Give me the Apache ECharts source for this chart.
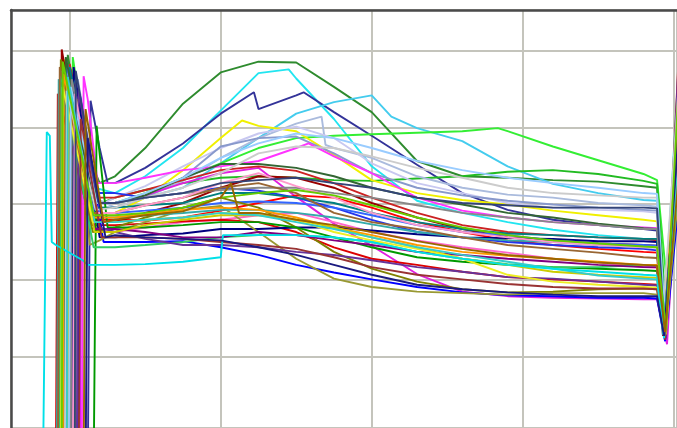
<!DOCTYPE html>
<html>
<head>
<meta charset="utf-8">
<script src="https://cdn.jsdelivr.net/npm/echarts@6/dist/echarts.min.js"></script>
<style>
  html, body { margin: 0; padding: 0; background: #ffffff; }
  #chart { width: 677px; height: 428px; }
</style>
</head>
<body>
<div id="chart"></div>
<script>
// Overlaid cycle traces: sharp upstroke, slow plateau decay, end-of-cycle dip.
// Time axis (gridline every 100 units) and amplitude axis (gridline every 100 units).

const bodyX = [130, 150, 175, 200, 225, 250, 275, 300, 330, 360, 390, 420, 450, 480, 489];
const troughY = -60;

const traceColors = [
  '#2e8b2e', '#22e5f0', '#333399', '#44ccee', '#33ee33', '#22bb22', '#f0f000', '#aabbdd', '#c8c8f0',
  '#8899cc', '#ff33ff', '#e020e0', '#ff66cc', '#ff0000', '#dd0000', '#cc2222', '#990000', '#0000ff',
  '#2233ee', '#3366ff', '#000080', '#999933', '#808000', '#008080', '#33aaaa', '#336633', '#009900',
  '#33cc66', '#800080', '#663399', '#888888', '#996633', '#ff9900', '#ff99cc', '#cccc00', '#eeee22',
  '#cccccc', '#99ccff', '#334477', '#993333', '#33cccc', '#00e0e8', '#1a1a80', '#66cc00', '#996600'
];

// upstroke onset, peak and post-peak settling point of each trace
const riseX = [97.4, 100, 111.9, 102.6, 101.3, 93.4, 95.4, 97.4, 92.1, 104, 107.9, 106.6, 96, 94.7, 90.8,
  98.7, 94.1, 105.3, 100, 97.4, 101.3, 103.3, 92.7, 99.3, 91.4, 96, 115.8, 93.4, 98, 104.6, 100.7, 92.1,
  95.4, 102, 98.7, 94.1, 96.7, 99.3, 103.3, 105.9, 98, 82.2, 110.5, 94.7, 109.2];
const peakX = [98.7, 101.3, 113.8, 104, 102, 94.7, 96.7, 98.7, 93.4, 105.3, 109.2, 107.9, 97.4, 96, 92.1,
  100, 94.7, 106.6, 100.7, 98, 102.6, 104.6, 94.1, 100, 92.7, 97.4, 117.8, 94.1, 99.3, 105.9, 101.3, 93.4,
  96, 103.3, 99.3, 95.4, 98, 100.7, 104, 107.3, 98.7, 84.8, 111.9, 95.4, 110.5];
const peakY = [495, 476, 435, 457, 492, 476, 489, 470, 450, 463, 467, 424, 457, 476, 444, 483, 502, 444,
  470, 486, 479, 437, 489, 479, 463, 492, 402, 474, 450, 450, 463, 479, 470, 444, 457, 453, 448, 453, 474,
  411, 466, 394, 386, 486, 424];
const settleX = [119.8, 116.5, 125.1, 119.8, 117.1, 113.2, 114.5, 116.5, 116.5, 119.8, 118.5, 119.8, 117.1,
  116.5, 114.5, 117.1, 114.5, 122.4, 117.8, 116.5, 119.8, 119.8, 115.2, 117.1, 115.8, 115.8, 125.1, 115.8,
  116.5, 119.8, 117.8, 115.2, 115.8, 118.5, 116.5, 115.2, 117.1, 117.8, 119.1, 121.1, 116.5, 111.9, 123.7,
  115.8, 122.4];
const settleY = [327, 321, 327, 301, 301, 295, 288, 308, 295, 295, 327, 301, 269, 279, 272, 308, 276, 250,
  314, 288, 256, 252, 263, 295, 282, 301, 269, 243, 267, 269, 301, 288, 282, 288, 263, 276, 292, 301, 301,
  256, 276, 220, 256, 285, 276];

// end-of-cycle dip and the start of the next upstroke
const tipX = [494.3, 493.6, 494.3, 492.9, 496.9, 494.9, 493.6, 492.9, 492.3, 494.3, 494.9, 495.6, 493.6,
  494.3, 493.6, 494.9, 492.9, 494.3, 493.6, 494.9, 492.9, 494.3, 493.6, 494.3, 492.3, 494.9, 494.3, 493.6,
  492.9, 494.9, 493.6, 494.3, 492.9, 494.3, 493.6, 494.9, 492.9, 494.3, 493.6, 494.3, 492.9, 493.6, 493.6,
  494.9, 494.3];
const tipY = [153, 140, 133, 146, 166, 159, 133, 153, 140, 127, 129, 116, 124, 140, 133, 146, 127, 120, 140,
  132, 137, 127, 129, 142, 145, 140, 129, 140, 133, 124, 140, 132, 136, 135, 127, 129, 150, 150, 142, 122,
  129, 124, 127, 136, 132];
const returnX = [508, 503, 506, 510, 507, 505, 509, 511, 504, 507, 510, 506, 508, 505, 509, 503, 507, 511,
  505, 508, 506, 510, 504, 507, 509, 505, 508, 506, 511, 503, 507, 509, 505, 508, 510, 506, 504, 509, 507,
  505, 508, 510, 506, 504, 509];
const returnY = [480, 470, 460, 475, 490, 465, 470, 480, 455, 470, 485, 460, 475, 470, 465, 480, 490, 455,
  470, 480, 465, 460, 485, 470, 475, 480, 460, 470, 465, 475, 480, 470, 465, 485, 460, 470, 475, 480, 465,
  470, 460, 475, 470, 480, 465];

// plateau levels of each trace at the bodyX instants
const lvl01 = [336, 373, 431, 472, 486, 485, 453, 420, 356, 336, 334, 331, 329, 323, 321];
const lvl02 = [314, 336, 373, 422, 471, 464, 411, 349, 304, 288, 276, 266, 259, 254, 252];
const lvl03 = [327, 347, 379, 418, 424, 442, 420, 389, 351, 314, 292, 279, 272, 267, 265];
const lvl04 = [301, 308, 321, 353, 386, 418, 433, 442, 399, 382, 349, 326, 314, 305, 304];
const lvl05 = [301, 314, 334, 353, 373, 386, 389, 391, 393, 395, 395, 375, 357, 339, 331];
const lvl06 = [308, 318, 327, 334, 336, 334, 331, 330, 333, 336, 342, 344, 339, 330, 326];
const lvl07 = [288, 308, 344, 386, 402, 395, 364, 331, 314, 305, 299, 291, 285, 279, 277];
const lvl08 = [295, 308, 330, 360, 386, 405, 373, 360, 336, 321, 312, 308, 301, 298, 296];
const lvl09 = [308, 323, 349, 373, 392, 401, 386, 353, 327, 314, 301, 295, 292, 290, 288];
const lvl10 = [295, 308, 334, 375, 386, 388, 366, 340, 321, 311, 304, 299, 295, 292, 291];
const lvl11 = [327, 334, 344, 349, 356, 373, 362, 340, 308, 291, 282, 276, 272, 269, 268];
const lvl12 = [301, 311, 327, 340, 347, 309, 274, 245, 208, 185, 179, 177, 176, 175, 175];
const lvl13 = [263, 269, 276, 279, 285, 288, 276, 263, 252, 243, 236, 228, 223, 217, 216];
const lvl14 = [279, 278, 282, 291, 301, 311, 308, 295, 276, 263, 252, 246, 241, 237, 236];
const lvl15 = [272, 274, 277, 279, 276, 263, 243, 228, 220, 211, 204, 201, 198, 195, 194];
const lvl16 = [308, 318, 331, 344, 349, 343, 327, 308, 288, 272, 263, 259, 256, 254, 252];
const lvl17 = [276, 288, 301, 321, 336, 334, 321, 301, 282, 267, 256, 251, 248, 246, 245];
const lvl18 = [250, 250, 251, 243, 233, 220, 210, 201, 191, 184, 180, 179, 177, 177, 176];
const lvl19 = [314, 308, 314, 321, 317, 308, 295, 279, 263, 256, 250, 246, 243, 241, 239];
const lvl20 = [288, 291, 295, 301, 303, 301, 295, 285, 272, 263, 259, 252, 248, 246, 245];
const lvl21 = [256, 259, 261, 267, 267, 269, 269, 265, 260, 256, 255, 254, 251, 251, 250];
const lvl22 = [263, 276, 292, 297, 263, 228, 202, 191, 185, 183, 181, 183, 183, 183, 181];
const lvl23 = [269, 282, 295, 308, 295, 269, 237, 215, 198, 188, 184, 185, 188, 189, 188];
const lvl24 = [295, 298, 301, 314, 314, 308, 301, 288, 276, 267, 261, 259, 256, 254, 254];
const lvl25 = [282, 285, 288, 292, 292, 288, 282, 273, 263, 256, 252, 250, 246, 243, 243];
const lvl26 = [301, 311, 334, 352, 352, 347, 336, 321, 308, 299, 288, 282, 274, 268, 267];
const lvl27 = [269, 269, 272, 276, 276, 269, 256, 243, 230, 224, 220, 217, 215, 213, 212];
const lvl28 = [243, 246, 250, 256, 259, 259, 256, 250, 237, 228, 221, 217, 217, 220, 220];
const lvl29 = [267, 263, 256, 256, 263, 259, 252, 246, 237, 233, 228, 224, 220, 217, 217];
const lvl30 = [263, 254, 246, 246, 243, 237, 233, 226, 217, 211, 204, 202, 198, 194, 193];
const lvl31 = [301, 308, 314, 318, 321, 321, 314, 308, 298, 288, 282, 276, 272, 267, 267];
const lvl32 = [288, 298, 308, 321, 327, 314, 288, 276, 267, 256, 246, 241, 236, 230, 229];
const lvl33 = [282, 287, 292, 295, 292, 282, 269, 259, 246, 237, 232, 228, 224, 220, 220];
const lvl34 = [288, 298, 308, 327, 340, 323, 308, 288, 272, 263, 256, 250, 246, 243, 243];
const lvl35 = [263, 272, 279, 285, 285, 279, 269, 256, 243, 228, 220, 211, 207, 204, 203];
const lvl36 = [276, 279, 282, 288, 288, 279, 263, 252, 241, 228, 207, 198, 194, 191, 190];
const lvl37 = [295, 308, 321, 340, 366, 375, 373, 362, 347, 334, 321, 314, 311, 308, 308];
const lvl38 = [301, 314, 334, 360, 379, 392, 386, 373, 356, 344, 334, 327, 321, 314, 313];
const lvl39 = [301, 308, 314, 327, 331, 334, 327, 321, 308, 301, 298, 295, 295, 295, 294];
const lvl40 = [256, 256, 254, 250, 246, 241, 230, 217, 207, 201, 195, 191, 189, 189, 188];
const lvl41 = [276, 279, 282, 288, 285, 276, 267, 256, 243, 233, 224, 215, 206, 202, 201];
const lvl42 = [220, 221, 224, 230, 259, 259, 256, 250, 237, 228, 220, 215, 211, 207, 206];
const lvl43 = [259, 256, 254, 252, 243, 233, 220, 207, 194, 188, 184, 181, 179, 179, 179];
const lvl44 = [285, 288, 295, 308, 314, 318, 311, 298, 282, 269, 259, 252, 248, 244, 243];
const lvl45 = [279, 285, 290, 308, 288, 279, 272, 263, 251, 241, 233, 228, 223, 220, 219];

// extra turning points: [trace number, time, amplitude]
const bendPoints = [
  [1, 107.9, 386], [2, 245.0, 476], [3, 119.8, 373], [3, 222.0, 446], [3, 254.9, 446],
  [4, 313.0, 414], [5, 383.5, 399], [7, 214.1, 409], [8, 266.8, 414], [8, 269.4, 377],
  [11, 111.9, 437], [11, 258.2, 379], [22, 113.2, 246], [42, 86.8, 389], [42, 88.1, 250],
  [42, 90.8, 246], [42, 108.6, 226], [42, 201.5, 259], [45, 206.8, 327], [45, 212.1, 288]
];

const traceLevels = [lvl01, lvl02, lvl03, lvl04, lvl05, lvl06, lvl07, lvl08, lvl09, lvl10, lvl11, lvl12,
  lvl13, lvl14, lvl15, lvl16, lvl17, lvl18, lvl19, lvl20, lvl21, lvl22, lvl23, lvl24, lvl25, lvl26, lvl27,
  lvl28, lvl29, lvl30, lvl31, lvl32, lvl33, lvl34, lvl35, lvl36, lvl37, lvl38, lvl39, lvl40, lvl41, lvl42,
  lvl43, lvl44, lvl45];

const series = traceLevels.map((levels, i) => {
  const num = i + 1;
  const pts = [[riseX[i], troughY], [peakX[i], peakY[i]], [settleX[i], settleY[i]]];
  bodyX.forEach((x, k) => pts.push([x, levels[k]]));
  bendPoints.filter(b => b[0] === num).forEach(b => pts.push([b[1], b[2]]));
  pts.push([tipX[i], tipY[i]], [returnX[i], returnY[i]]);
  pts.sort((a, b) => a[0] - b[0]);
  return {
    type: 'line',
    name: 'Cycle ' + num,
    data: pts,
    symbol: 'none',
    silent: true,
    clip: true,
    lineStyle: { color: traceColors[i], width: 1.9 },
    emphasis: { disabled: true }
  };
});

const chart = echarts.init(document.getElementById('chart'), null, { renderer: 'canvas' });
chart.setOption({
  animation: false,
  backgroundColor: '#ffffff',
  grid: { left: 11, top: 10, right: -3, bottom: -5, containLabel: false },
  xAxis: {
    type: 'value',
    position: 'top',
    min: 61.1,
    max: 502.2,
    minInterval: 100,
    maxInterval: 100,
    axisLine: { show: true, onZero: false, lineStyle: { color: '#4a4a4a', width: 2.5 } },
    axisTick: { show: false },
    axisLabel: { show: false },
    splitLine: { show: true, lineStyle: { color: '#c4c4bc', width: 2 } }
  },
  yAxis: {
    type: 'value',
    position: 'left',
    min: 6.4,
    max: 553.7,
    minInterval: 100,
    maxInterval: 100,
    axisLine: { show: true, onZero: false, lineStyle: { color: '#4a4a4a', width: 2.5 } },
    axisTick: { show: false },
    axisLabel: { show: false },
    splitLine: { show: true, lineStyle: { color: '#c4c4bc', width: 2 } }
  },
  series: series
});
</script>
</body>
</html>
